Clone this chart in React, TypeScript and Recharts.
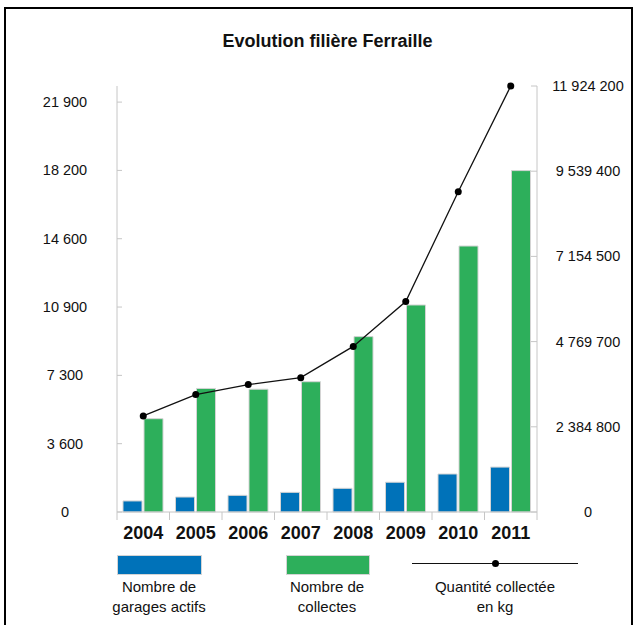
import { Bar, ComposedChart, Line, XAxis, YAxis } from 'recharts'

const years = ['2004', '2005', '2006', '2007', '2008', '2009', '2010', '2011']
const garagesActifs = [590, 800, 890, 1050, 1265, 1590, 2030, 2400]
const collectes = [4985, 6600, 6560, 6960, 9370, 11060, 14210, 18240]
const quantiteKg = [2690000, 3287000, 3566000, 3761000, 4636000, 5892000, 8964000, 11924200]

const leftTicks = [0, 3650, 7300, 10950, 14600, 18250, 21900]
const leftTickLabels = ['0', '3 600', '7 300', '10 900', '14 600', '18 200', '21 900']
const rightTicks = [0, 2384800, 4769700, 7154500, 9539400, 11924200]
const rightTickLabels = ['0', '2 384 800', '4 769 700', '7 154 500', '9 539 400', '11 924 200']

const seriesNames = ['Nombre de\ngarages actifs', 'Nombre de\ncollectes', 'Quantité collectée\nen kg']

const BLUE = '#0072b9'
const GREEN = '#2daf5b'
const AXIS = '#c6c6c6'
const FONT = '"Liberation Sans", Arial, sans-serif'

const W = 638
const H = 625
const plotLeft = 117
const plotRight = 537
const plotTop = 86
const plotBottom = 512
const band = (plotRight - plotLeft) / years.length

const data = years.map((year, i) => ({
  year,
  garages: garagesActifs[i],
  collectes: collectes[i],
  quantite: quantiteKg[i],
}))

function LeftTick({ x, y, index }: any) {
  return (
    <g>
      <line x1={x} x2={x + 5} y1={y} y2={y} stroke={AXIS} />
      <text x={x - 52} y={y} dy={5} textAnchor="middle" fontSize={14.5} fill="#111" fontFamily={FONT}>
        {leftTickLabels[index]}
      </text>
    </g>
  )
}

function RightTick({ x, y, index }: any) {
  return (
    <g>
      <line x1={x - 6} x2={x} y1={y} y2={y} stroke={AXIS} />
      <text x={x + 51} y={y} dy={5} textAnchor="middle" fontSize={14.5} fill="#111" fontFamily={FONT}>
        {rightTickLabels[index]}
      </text>
    </g>
  )
}

function YearTick({ x, y, index, payload }: any) {
  const last = index === years.length - 1
  return (
    <g>
      <line x1={x - band / 2} x2={x - band / 2} y1={y} y2={y + 8} stroke={AXIS} />
      {last && <line x1={x + band / 2} x2={x + band / 2} y1={y} y2={y + 8} stroke={AXIS} />}
      <text x={x} y={y} dy={27} textAnchor="middle" fontSize={18} fontWeight="bold" fill="#111" fontFamily={FONT}>
        {payload.value}
      </text>
    </g>
  )
}

function LegendLabel({ cx, text }: { cx: number; text: string }) {
  return (
    <div
      style={{
        position: 'absolute',
        left: cx - 100,
        top: 577,
        width: 200,
        textAlign: 'center',
        whiteSpace: 'pre-line',
        fontSize: 15,
        lineHeight: '20px',
        color: '#111',
      }}
    >
      {text}
    </div>
  )
}

export default function App() {
  return (
    <div style={{ position: 'relative', width: W, height: H, background: '#fff', overflow: 'hidden', fontFamily: FONT }}>
      <style>{`body{margin:0}`}</style>
      <div
        style={{
          position: 'absolute',
          left: 4,
          top: 7,
          width: 625,
          height: 640,
          border: '2px solid #000',
        }}
      />
      <div
        style={{
          position: 'absolute',
          top: 31,
          left: 0,
          width: 655,
          textAlign: 'center',
          fontSize: 18,
          fontWeight: 'bold',
          color: '#111',
        }}
      >
        Evolution filière Ferraille
      </div>
      <div style={{ position: 'absolute', left: 0, top: 0 }}>
        <ComposedChart
          width={W}
          height={H}
          data={data}
          margin={{ top: plotTop, right: 0, bottom: H - plotBottom - 40, left: 0 }}
          barSize={19}
          barGap={2}
        >
          <XAxis
            dataKey="year"
            axisLine={{ stroke: AXIS }}
            tickLine={false}
            tickSize={0}
            tickMargin={0}
            height={40}
            interval={0}
            tick={<YearTick />}
          />
          <YAxis
            yAxisId="left"
            orientation="left"
            width={plotLeft}
            domain={[0, 22760]}
            ticks={leftTicks}
            interval={0}
            axisLine={{ stroke: AXIS }}
            tickLine={false}
            tickSize={0}
            tickMargin={0}
            tick={<LeftTick />}
          />
          <YAxis
            yAxisId="right"
            orientation="right"
            width={W - plotRight}
            domain={[0, 11924200]}
            ticks={rightTicks}
            interval={0}
            axisLine={{ stroke: AXIS }}
            tickLine={false}
            tickSize={0}
            tickMargin={0}
            tick={<RightTick />}
          />
          <Bar yAxisId="left" dataKey="garages" fill={BLUE} stroke="#d4d4d4" strokeWidth={1} isAnimationActive={false} />
          <Bar yAxisId="left" dataKey="collectes" fill={GREEN} stroke="#d4d4d4" strokeWidth={1} isAnimationActive={false} />
          <Line
            yAxisId="right"
            dataKey="quantite"
            stroke="#111"
            strokeWidth={1.3}
            dot={{ r: 3.5, fill: '#000', stroke: '#000', strokeWidth: 0 }}
            activeDot={false}
            isAnimationActive={false}
          />
        </ComposedChart>
      </div>

      {/* legend */}
      <div style={{ position: 'absolute', left: 117, top: 555, width: 83, height: 18, background: BLUE, border: '1px solid #d4d4d4' }} />
      <div style={{ position: 'absolute', left: 286, top: 555, width: 82, height: 18, background: GREEN, border: '1px solid #d4d4d4' }} />
      <div style={{ position: 'absolute', left: 412, top: 563, width: 166, height: 0, borderTop: '1.5px solid #111' }} />
      <div style={{ position: 'absolute', left: 492, top: 560, width: 7, height: 7, borderRadius: 4, background: '#000' }} />
      <LegendLabel cx={159} text={seriesNames[0]} />
      <LegendLabel cx={327} text={seriesNames[1]} />
      <LegendLabel cx={495} text={seriesNames[2]} />
    </div>
  )
}
